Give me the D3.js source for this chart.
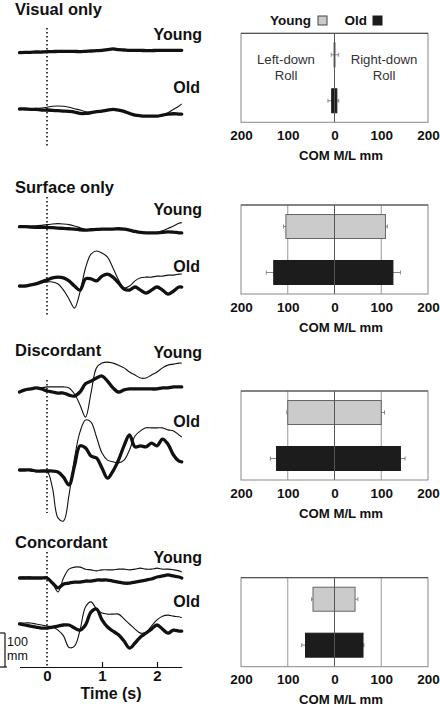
<!DOCTYPE html>
<html><head><meta charset="utf-8">
<script src="https://cdn.jsdelivr.net/npm/d3@7"></script>
<style>
body{margin:0;background:#fff}
svg{display:block}
text{font-family:"Liberation Sans",Arial,Helvetica,sans-serif}
</style>
</head><body>
<svg id="c" width="440" height="707"></svg>
<script>
// ---------- DATA ----------
const conditions = ["Visual only", "Surface only", "Discordant", "Concordant"];
const groups = ["Young", "Old"];
const times = [-0.5,-0.4,-0.3,-0.2,-0.1,0,0.1,0.2,0.3,0.4,0.5,0.6,0.7,0.8,0.9,1.0,1.1,1.2,1.3,1.4,1.5,1.6,1.7,1.8,1.9,2.0,2.1,2.2,2.3,2.4,2.45];
const timeTicks = [0, 1, 2];

// COM M/L traces (mm, relative to each trace's starting level)
const visYoungThin  = [1,1,2,2,3,3,4,4,5,5,4,4,5,6,6,8,9,10,9,8,7,6,6,6,7,7,7,8,8,8,8];
const visYoungThick = [0,1,1,2,2,3,3,4,4,4,4,3,4,5,6,7,9,11,9,8,7,7,7,6,6,7,7,7,7,7,7];
const visOldThin    = [1,1,1,2,3,5,8,9,8,5,1,-3,-8,-10,-8,-6,-3,-1,-3,-7,-13,-18,-20,-21,-21,-21,-18,-11,-1,9,15];
const visOldThick   = [0,0,-1,-1,-3,-3,-4,-5,-6,-7,-9,-13,-13,-11,-8,-6,-3,-1,-3,-7,-13,-18,-20,-21,-21,-21,-18,-15,-14,-15,-15];

const surfYoungThin  = [2,2,2,3,4,6,8,9,8,6,2,-3,-8,-9,-8,-7,-7,-6,-6,-7,-10,-14,-17,-18,-18,-17,-12,-5,2,10,12];
const surfYoungThick = [0,0,-1,-2,-2,-2,-3,-4,-5,-6,-7,-9,-10,-9,-8,-7,-7,-7,-6,-7,-10,-14,-17,-18,-18,-18,-17,-15,-16,-18,-18];
const surfOldThin    = [0,0,3,6,9,12,12,6,-12,-38,-65,-18,53,94,103,97,85,53,18,-6,0,15,24,26,26,29,29,32,32,35,35];
const surfOldThick   = [0,0,3,6,12,18,24,26,24,15,0,-12,21,21,15,29,35,26,9,-9,-12,-3,-12,-21,-12,-3,-12,-24,-15,-3,-3];

const discYoungThin  = [0,6,9,12,12,15,15,15,15,12,-6,-38,-74,-3,71,85,88,85,79,71,59,50,41,41,50,59,71,79,82,85,85];
const discYoungThick = [0,6,9,12,9,3,0,-3,-3,-9,-12,0,24,32,41,47,32,12,0,6,9,9,9,9,9,9,12,12,15,15,15];
const discOldThin    = [0,0,0,-3,-3,-3,-53,-141,-150,-74,35,112,147,141,97,50,29,24,21,29,59,100,115,124,124,124,124,118,115,103,97];
const discOldThick   = [0,0,0,-3,-3,-3,-3,-6,-21,-44,12,71,65,41,35,6,-24,-3,29,71,103,68,71,68,79,71,91,76,44,26,24];

const concYoungThin  = [3,3,3,0,0,0,-15,-41,0,26,32,32,26,24,21,24,24,24,26,26,24,26,29,26,26,29,26,26,24,21,18];
const concYoungThick = [0,0,0,0,0,0,-15,-29,-18,-15,-12,-12,-9,-9,-6,-6,-6,-9,-12,-15,-15,-12,-9,-6,-3,3,6,9,6,3,0];
const concOldThin    = [6,6,6,3,0,-3,-6,-15,-32,-66,-62,-15,53,68,47,35,32,32,32,18,3,-12,-24,-21,-3,15,26,29,26,24,21];
const concOldThick   = [3,0,-3,-6,-9,-9,-6,-3,0,0,-9,-15,0,38,47,15,-6,-18,-29,-47,-68,-53,-35,-24,-12,0,-12,-24,-15,-18,-18];

// Peak COM M/L displacement (mm): left-down roll and right-down roll, with SE
const youngLeft    = [1, 104, 100, 46];
const youngRight   = [1, 109, 100, 44];
const youngLeftSE  = [6, 5, 2, 3];
const youngRightSE = [8, 4, 7, 6];
const oldLeft      = [6, 130, 124, 62];
const oldRight     = [5, 125, 141, 61];
const oldLeftSE    = [8, 16, 13, 8];
const oldRightSE   = [4, 16, 10, 2];
const barTicks = [-200, -100, 0, 100, 200];

const traces = [
  {young: [visYoungThin, visYoungThick], old: [visOldThin, visOldThick]},
  {young: [surfYoungThin, surfYoungThick], old: [surfOldThin, surfOldThick]},
  {young: [discYoungThin, discYoungThick], old: [discOldThin, discOldThick]},
  {young: [concYoungThin, concYoungThick], old: [concOldThin, concOldThick]}
];

// ---------- LAYOUT ----------
const svg = d3.select("#c");
const FONT = '"Liberation Sans",Arial,Helvetica,sans-serif';
const layout = [
  {title: 15,  dot: [28, 148],  yBase: 52.7,  oBase: 109, yLab: 40,  oLab: 93,  box: 33.3},
  {title: 193, dot: [197, 317], yBase: 226.7, oBase: 286, yLab: 215, oLab: 272, box: 205},
  {title: 356, dot: [380, 513], yBase: 392,   oBase: 470, yLab: 358, oLab: 427, box: 391},
  {title: 548, dot: [552, 667], yBase: 578,   oBase: 625, yLab: 563, oLab: 607, box: 577.7}
];
const PX100 = 34; // pixels per 100 mm
const x = d3.scaleLinear().domain([-0.5, 2.45]).range([19.5, 181.75]);
const yScaleAt = base => d3.scaleLinear().domain([0, 100]).range([base, base - PX100]);

const bx = d3.scaleLinear().domain([-200, 200]).range([241, 428]);
const BOXH = 89;

conditions.forEach((cond, ci) => {
  const L = layout[ci];
  const g = svg.append("g");
  g.append("text").attr("x", 15).attr("y", L.title)
    .attr("font-size", 16.5).attr("font-weight", "bold").attr("fill", "#111").text(cond);
  g.append("line").attr("x1", x(0)).attr("x2", x(0)).attr("y1", L.dot[0]).attr("y2", L.dot[1])
    .attr("stroke", "#111").attr("stroke-width", 1.6).attr("stroke-dasharray", "1.6,2.4");
  [["young", L.yBase], ["old", L.oBase]].forEach(([key, base]) => {
    const ys = yScaleAt(base);
    const ln = d3.line().x((d, i) => x(times[i])).y(d => ys(d)).curve(d3.curveCatmullRom.alpha(0.5));
    const [thin, thick] = traces[ci][key];
    g.append("path").attr("d", ln(thin)).attr("fill", "none").attr("stroke", "#111")
      .attr("stroke-width", 1.1).attr("stroke-linejoin", "round");
    g.append("path").attr("d", ln(thick)).attr("fill", "none").attr("stroke", "#111")
      .attr("stroke-width", 3.3).attr("stroke-linejoin", "round").attr("stroke-linecap", "round");
  });
  g.append("text").attr("x", 202).attr("y", L.yLab).attr("text-anchor", "end")
    .attr("font-size", 16).attr("font-weight", "bold").attr("fill", "#111").text("Young");
  g.append("text").attr("x", 200).attr("y", L.oLab).attr("text-anchor", "end")
    .attr("font-size", 16).attr("font-weight", "bold").attr("fill", "#111").text("Old");

  // ---- bar panel ----
  const top = L.box, bot = L.box + BOXH;
  const band = d3.scaleBand().domain(groups).range([top, bot]).paddingInner(0.478).paddingOuter(0.207);
  const bg = svg.append("g");
  if (ci > 0) {
    bg.selectAll("line.grid").data([-100, 100]).join("line").attr("class", "grid")
      .attr("x1", d => bx(d)).attr("x2", d => bx(d)).attr("y1", top).attr("y2", bot)
      .attr("stroke", "#999").attr("stroke-width", 1);
  }
  const rows = [
    {grp: "Young", l: youngLeft[ci], r: youngRight[ci], le: youngLeftSE[ci], re: youngRightSE[ci], fill: "#cbcbcb", stroke: "#666"},
    {grp: "Old", l: oldLeft[ci], r: oldRight[ci], le: oldLeftSE[ci], re: oldRightSE[ci], fill: "#1c1c1c", stroke: "#1c1c1c"}
  ];
  rows.forEach(r => {
    const yc = band(r.grp) + band.bandwidth() / 2;
    [[-r.l, -(r.l + r.le)], [r.r, r.r + r.re]].forEach(([a, b]) => {
      bg.append("line").attr("x1", bx(a)).attr("x2", bx(b)).attr("y1", yc).attr("y2", yc)
        .attr("stroke", "#888").attr("stroke-width", 1);
      bg.append("line").attr("x1", bx(b)).attr("x2", bx(b)).attr("y1", yc - 2).attr("y2", yc + 2)
        .attr("stroke", "#888").attr("stroke-width", 1);
    });
    bg.append("rect").attr("x", bx(-r.l)).attr("y", band(r.grp))
      .attr("width", Math.max(1, bx(r.r) - bx(-r.l))).attr("height", band.bandwidth())
      .attr("fill", r.fill).attr("stroke", r.stroke).attr("stroke-width", 1);
  });
  bg.append("line").attr("x1", bx(0)).attr("x2", bx(0)).attr("y1", top).attr("y2", bot)
    .attr("stroke", "#555").attr("stroke-width", 1);
  bg.append("rect").attr("x", bx(-200)).attr("y", top).attr("width", bx(200) - bx(-200)).attr("height", BOXH)
    .attr("fill", "none").attr("stroke", "#888").attr("stroke-width", 1);
  bg.append("line").attr("x1", bx(-200)).attr("x2", bx(200)).attr("y1", top).attr("y2", top)
    .attr("stroke", "#444").attr("stroke-width", 1);
  const ax = bg.append("g").attr("transform", `translate(0,${bot})`)
    .call(d3.axisBottom(bx).tickValues(barTicks).tickFormat(d => Math.abs(d)).tickSize(0).tickPadding(8));
  ax.select(".domain").remove();
  ax.selectAll("text").attr("font-size", 13.5).attr("font-weight", "bold").attr("fill", "#111")
    .attr("font-family", FONT);
  bg.append("text").attr("x", 341).attr("y", bot + 37.5).attr("text-anchor", "middle")
    .attr("font-size", 13.2).attr("font-weight", "bold").attr("fill", "#111").text("COM M/L mm");

  if (ci === 0) {
    [["Left-down", 286], ["Right-down", 384]].forEach(([t, cx]) => {
      bg.append("text").attr("x", cx).attr("y", 64).attr("text-anchor", "middle")
        .attr("font-size", 13.2).attr("fill", "#333").text(t);
      bg.append("text").attr("x", cx).attr("y", 80).attr("text-anchor", "middle")
        .attr("font-size", 13.2).attr("fill", "#333").text("Roll");
    });
  }
});

// legend
const lg = svg.append("g");
lg.append("text").attr("x", 311).attr("y", 25).attr("text-anchor", "end")
  .attr("font-size", 13.5).attr("font-weight", "bold").attr("fill", "#111").text("Young");
lg.append("rect").attr("x", 318).attr("y", 16).attr("width", 9).attr("height", 9)
  .attr("fill", "#cbcbcb").attr("stroke", "#444");
lg.append("text").attr("x", 367).attr("y", 25).attr("text-anchor", "end")
  .attr("font-size", 13.5).attr("font-weight", "bold").attr("fill", "#111").text("Old");
lg.append("rect").attr("x", 373).attr("y", 16).attr("width", 9).attr("height", 9)
  .attr("fill", "#1c1c1c").attr("stroke", "#1c1c1c");

// time axis
const axisY = 667;
const tg = svg.append("g").attr("transform", `translate(0,${axisY})`)
  .call(d3.axisBottom(x).tickValues(timeTicks).tickFormat(d3.format("d")).tickSizeInner(-5).tickSizeOuter(0).tickPadding(3.5));
tg.select(".domain").attr("stroke", "#111").attr("stroke-width", 1.2);
tg.selectAll(".tick line").attr("stroke", "#111").attr("stroke-width", 1.2);
tg.selectAll(".tick").filter(d => d === 0).select("line").remove();
tg.selectAll("text").attr("font-size", 15).attr("font-weight", "bold").attr("fill", "#111").attr("font-family", FONT);
svg.append("text").attr("x", 111).attr("y", 698.5).attr("text-anchor", "middle")
  .attr("font-size", 16).attr("font-weight", "bold").attr("fill", "#111").text("Time (s)");

// scale bar (100 mm)
const sb = yScaleAt(axisY);
svg.append("line").attr("x1", 5).attr("x2", 5).attr("y1", sb(0)).attr("y2", sb(100)).attr("stroke", "#111").attr("stroke-width", 1.2);
svg.append("line").attr("x1", 0).attr("x2", 5).attr("y1", sb(100)).attr("y2", sb(100)).attr("stroke", "#111").attr("stroke-width", 1.2);
svg.append("line").attr("x1", 0).attr("x2", 7).attr("y1", sb(0)).attr("y2", sb(0)).attr("stroke", "#111").attr("stroke-width", 1.2);
svg.append("text").attr("x", 7).attr("y", 646).attr("font-size", 12.5).attr("fill", "#111").text("100");
svg.append("text").attr("x", 7).attr("y", 660).attr("font-size", 12.5).attr("fill", "#111").text("mm");
</script>
</body></html>
